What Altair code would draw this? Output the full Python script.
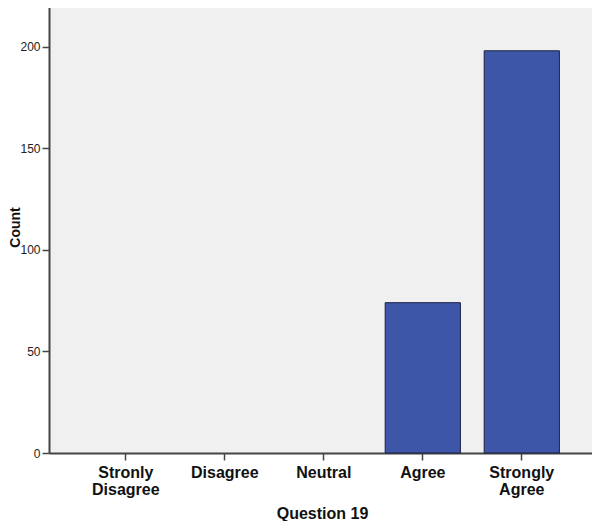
import altair as alt
import pandas as pd

categories = ["Stronly Disagree", "Disagree", "Neutral", "Agree", "Strongly Agree"]
counts = [0, 0, 0, 74, 198]
y_ticks = [0, 50, 100, 150, 200]

df = pd.DataFrame({"response": categories, "count": counts})

FONT = "Liberation Sans"

chart = alt.Chart(df).transform_filter(
    "datum.count > 0"
).mark_bar(
    fill="#3D56A8", stroke="#1c2040", strokeWidth=1
).encode(
    x=alt.X(
        "response:N",
        sort=categories,
        scale=alt.Scale(domain=categories, paddingInner=0.24, paddingOuter=0.3625, align=0.546),
        axis=alt.Axis(
            title="Question 19",
            labelAngle=0,
            labelExpr="split(datum.label, ' ')",
            labelFont=FONT,
            labelFontSize=16,
            labelFontWeight="bold",
            labelColor="#111",
            labelLineHeight=17,
            labelPadding=4,
            tickSize=7,
            tickColor="#444",
            tickWidth=1.5,
            domainColor="#444",
            domainWidth=2,
            titleFont=FONT,
            titleFontSize=16,
            titleFontWeight="bold",
            titleColor="#111",
            titleX=273,
            titleY=60,
            titleBaseline="middle",
            titleAlign="center",
        ),
    ),
    y=alt.Y(
        "count:Q",
        scale=alt.Scale(domain=[0, 222.5], nice=False, zero=True),
        axis=alt.Axis(
            title="Count",
            values=y_ticks,
            grid=False,
            labelFont=FONT,
            labelFontSize=12,
            labelColor="#222",
            labelPadding=2,
            tickSize=7,
            tickColor="#444",
            tickWidth=1.5,
            domainColor="#444",
            domainWidth=2,
            titleFont=FONT,
            titleFontSize=14,
            titleFontWeight="bold",
            titleColor="#111",
            titleAngle=-90,
            titleX=-34,
            titleY=226,
            titleAlign="center",
            titleBaseline="middle",
        ),
    ),
).properties(
    width=543,
    height=452,
    background="white",
    autosize=alt.AutoSizeParams(type="none"),
    padding={"left": 41, "top": -7, "right": 0, "bottom": 68},
).configure_view(
    fill="#F0F0F0", stroke="#999999", strokeWidth=1
)

chart.save("out.html", embed_options={"renderer": "svg", "actions": False})
